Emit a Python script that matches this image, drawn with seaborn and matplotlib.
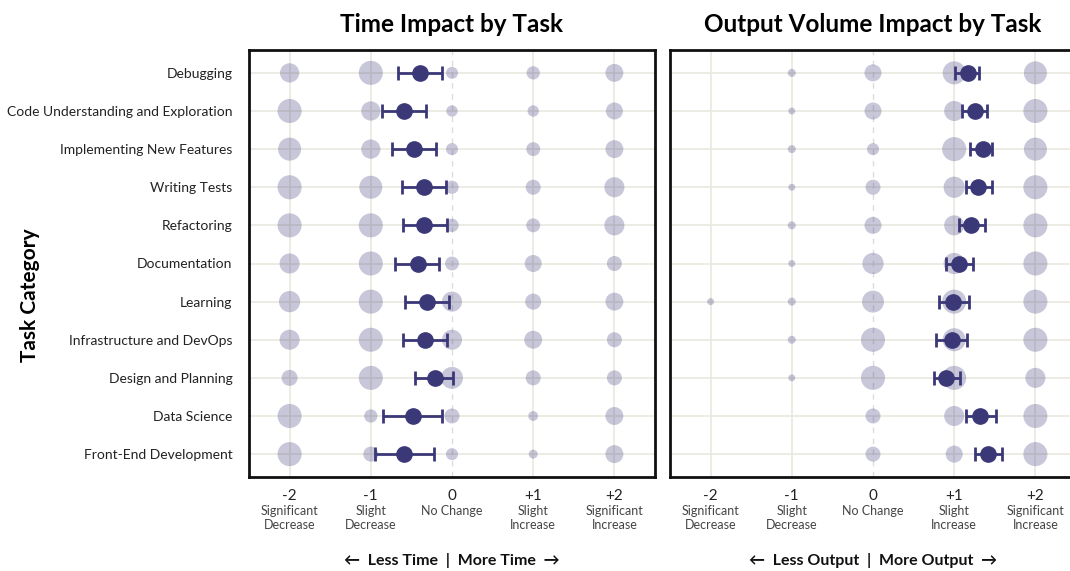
import numpy as np
import pandas as pd
import matplotlib
matplotlib.use("Agg")
import matplotlib.pyplot as plt
import matplotlib.transforms as mtransforms
import seaborn as sns

tasks = ["Debugging", "Code Understanding and Exploration", "Implementing New Features",
         "Writing Tests", "Refactoring", "Documentation", "Learning",
         "Infrastructure and DevOps", "Design and Planning", "Data Science",
         "Front-End Development"]
levels = [-2, -1, 0, 1, 2]
level_names = ["Significant\nDecrease", "Slight\nDecrease", "No Change",
               "Slight\nIncrease", "Significant\nIncrease"]
level_ticks = ["-2", "-1", "0", "+1", "+2"]

# share of responses (%) per level -2..+2
time_share = [
    [23, 36, 9, 11, 20],
    [36, 23, 8, 8, 18],
    [33, 23, 9, 12, 20],
    [36, 33, 11, 14, 25],
    [36, 36, 11, 12, 25],
    [25, 36, 12, 18, 14],
    [28, 36, 25, 16, 20],
    [25, 36, 25, 20, 14],
    [16, 36, 30, 14, 14],
    [36, 11, 14, 6, 20],
    [36, 14, 9, 5, 20],
]
output_share = [
    [0, 4, 18, 33, 33],
    [0, 3, 18, 25, 36],
    [0, 4, 9, 36, 33],
    [0, 3, 14, 28, 36],
    [0, 4, 18, 25, 36],
    [0, 3, 28, 28, 36],
    [3, 4, 30, 36, 36],
    [0, 4, 36, 33, 36],
    [0, 3, 36, 36, 25],
    [0, 0, 14, 25, 36],
    [0, 0, 14, 18, 36],
]

time_mean = [-0.39, -0.59, -0.47, -0.35, -0.34, -0.42, -0.31, -0.33, -0.21, -0.48, -0.59]
time_lo = [-0.66, -0.86, -0.74, -0.62, -0.60, -0.70, -0.58, -0.60, -0.46, -0.85, -0.95]
time_hi = [-0.12, -0.32, -0.20, -0.08, -0.06, -0.16, -0.04, -0.06, 0.01, -0.12, -0.22]

output_mean = [1.17, 1.25, 1.35, 1.29, 1.21, 1.06, 0.98, 0.97, 0.90, 1.32, 1.42]
output_lo = [1.01, 1.09, 1.20, 1.14, 1.06, 0.90, 0.81, 0.77, 0.75, 1.14, 1.25]
output_hi = [1.31, 1.40, 1.47, 1.46, 1.38, 1.23, 1.18, 1.16, 1.07, 1.51, 1.59]

sns.set_theme(style="white")
plt.rcParams["font.family"] = ["Lato", "DejaVu Sans"]

navy = "#3b3878"
grid_c = "#e9e7df"

fig = plt.figure(figsize=(10.7, 5.71), dpi=100)
ax1 = fig.add_axes([249 / 1070, 94 / 571, 406 / 1070, 427 / 571])
ax2 = fig.add_axes([670 / 1070, 94 / 571, 406 / 1070, 427 / 571])


def draw_panel(ax, share, mean, lo, hi, title, xlabel):
    rows = []
    for t, vals in zip(tasks, share):
        for lv, v in zip(levels, vals):
            if v > 0:
                rows.append({"task": t, "level": lv, "share": v})
    df = pd.DataFrame(rows)
    for i in range(len(tasks)):
        ax.axhline(i, color=grid_c, lw=1.2, zorder=0)
    for lv in levels:
        if lv == 0:
            ax.axvline(lv, color="#dcdcdc", lw=1.0, ls=(0, (4, 4)), zorder=0)
        else:
            ax.axvline(lv, color=grid_c, lw=1.2, zorder=0)
    sns.scatterplot(data=df, x="level", y="task", size="share", sizes=(0, 300),
                    size_norm=(0, 36), color=navy, alpha=0.28, edgecolor="none",
                    legend=False, ax=ax, zorder=2)
    m = np.array(mean)
    err = np.vstack([m - np.array(lo), np.array(hi) - m])
    ax.errorbar(m, tasks, xerr=err, fmt="o", color=navy, ms=11, lw=2,
                capsize=5, capthick=2, zorder=3)
    ax.set_xlim(-2.5, 2.5)
    ax.set_ylim(len(tasks) - 0.4, -0.6)
    ax.set_xticks(levels)
    ax.set_xticklabels(level_ticks, fontsize=11, color="#222222")
    ax.tick_params(axis="x", length=0, pad=9)
    ax.tick_params(axis="y", length=0, pad=12)
    for s in ax.spines.values():
        s.set_visible(True)
        s.set_color("#111111")
        s.set_linewidth(2)
    ax.set_title(title, fontsize=17.5, fontweight="bold", pad=13, color="black")
    ax.set_xlabel("")
    ax.set_ylabel("")
    trans = mtransforms.blended_transform_factory(ax.transData, ax.transAxes)
    for lv, name in zip(levels, level_names):
        ax.text(lv, -0.066, name, transform=trans, ha="center", va="top",
                fontsize=9, color="#444444", linespacing=1.15)
    # axis caption below the tick descriptions
    ftrans = mtransforms.blended_transform_factory(ax.transData, fig.transFigure)
    ax.text(0, 11 / 571, xlabel, transform=ftrans, ha="center", va="center",
            fontsize=11.5, fontweight="bold", color="#111111")


draw_panel(ax1, time_share, time_mean, time_lo, time_hi,
           "Time Impact by Task", "\u2190  Less Time  |  More Time  \u2192")
ax1.set_yticks(range(len(tasks)))
ax1.set_yticklabels(tasks, fontsize=10, color="#222222")
fig.text(30 / 1070, 1 - 295 / 571, "Task Category", rotation=90, ha="center",
         va="center", fontsize=15, fontweight="bold", color="black")

draw_panel(ax2, output_share, output_mean, output_lo, output_hi,
           "Output Volume Impact by Task", "\u2190  Less Output  |  More Output  \u2192")
ax2.set_yticklabels([])

fig.savefig("out.png", dpi=100)
